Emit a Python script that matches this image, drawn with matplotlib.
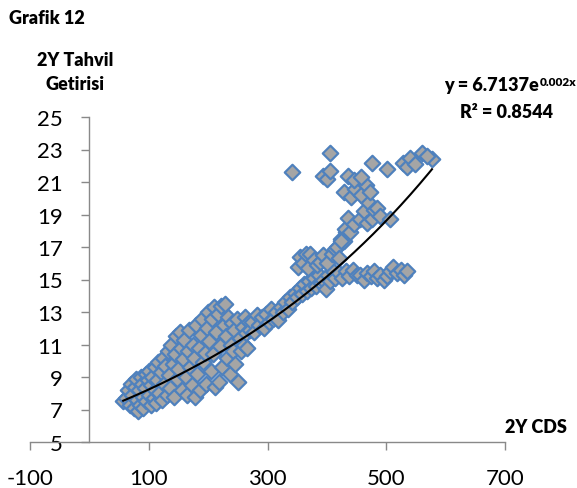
import numpy as np
import matplotlib.pyplot as plt

# data (2Y CDS, 2Y bond yield)
cds_low = [57, 62, 65, 68, 70, 72, 75, 76, 78, 80, 82, 84, 85, 87, 88, 90, 91, 93, 95, 96,
           98, 100, 101, 103, 104, 106, 108, 110, 110]
yld_low = [7.5, 7.7, 8.2, 7.3, 8.6, 7.9, 7.1, 8.4, 8.9, 7.6, 6.9, 8.2, 7.3, 9.0, 8.6, 7.8, 7.1, 8.3, 9.2, 7.5,
           8.8, 7.9, 9.4, 7.3, 8.5, 9.0, 7.7, 9.6, 8.2]

cds_b = [112, 114, 116, 118, 120, 122, 124, 126, 128, 130, 132, 134, 136, 138, 140, 142, 144, 146,
         148, 150, 152, 154, 156, 158, 160, 162, 164, 166, 168, 170, 172, 174, 176, 178, 180]
yld_b = [7.4, 8.8, 9.9, 8.0, 9.3, 7.6, 10.2, 8.6, 9.7, 7.9, 10.6, 9.1, 8.3, 11.0, 9.8, 7.8, 10.4, 11.5,
         8.9, 9.5, 11.8, 10.8, 8.2, 10.1, 11.3, 9.0, 7.9, 10.6, 11.9, 9.6, 8.5, 11.0, 10.2, 7.8, 12.2]

cds_c = [182, 184, 186, 188, 190, 192, 194, 196, 198, 200, 202, 204, 206, 208, 210, 212, 214, 216,
         218, 220, 222, 224, 226, 228, 230, 232, 234, 236, 238, 240, 242, 244, 246, 248, 251, 254,
         256, 258, 260, 262, 264, 266, 268, 270]
yld_c = [9.2, 10.8, 8.2, 11.6, 12.6, 9.9, 10.5, 8.6, 12.0, 13.0, 11.2, 9.4, 12.6, 10.4, 13.3, 8.4, 11.8, 12.9,
         8.7, 10.9, 13.4, 9.6, 12.2, 13.5, 11.5, 10.2, 12.7, 9.2, 11.0, 12.3, 10.6, 11.9, 9.8, 12.6, 8.7, 11.4,
         10.6, 12.1, 11.0, 12.7, 11.7, 10.8, 12.4, 11.9]

cds_d = [274, 278, 282, 286, 290, 294, 298, 302, 306, 310, 314, 318, 322, 326, 330, 334, 338,
         342, 346, 350, 354, 358, 362, 366, 370, 374, 378, 382, 386, 390, 394, 398, 402, 406, 410, 414]
yld_d = [12.4, 11.8, 12.8, 12.2, 12.7, 12.0, 12.9, 12.4, 13.2, 12.6, 13.0, 12.5, 13.3, 13.0, 13.6, 13.2, 13.9,
         13.6, 14.2, 13.9, 14.5, 14.1, 14.7, 14.3, 14.9, 14.5, 15.1, 14.6, 15.3, 14.8, 15.0, 14.4, 15.3, 14.9,
         15.5, 15.1]

cds_e = [352, 355, 360, 364, 368, 372, 378, 384, 389, 394, 400, 408, 414, 417, 421, 424, 428, 432]
yld_e = [15.8, 16.4, 16.0, 16.6, 15.7, 16.6, 16.2, 15.9, 16.1, 16.5, 16.0, 16.6, 16.9, 17.0, 16.3, 17.5,
         17.4, 17.9]

cds_f = [420, 426, 432, 438, 444, 450, 456, 462, 468, 474, 480, 485, 490, 496, 502, 507, 512, 518,
         524, 530, 535]
yld_f = [15.4, 15.1, 15.5, 15.2, 15.6, 15.3, 15.3, 15.0, 15.4, 15.2, 15.5, 15.1, 15.3, 15.0, 15.2, 15.5,
         15.8, 15.4, 15.6, 15.3, 15.5]

cds_g = [423, 430, 436, 439, 446, 456, 462, 468, 470, 476, 480, 485, 490, 507, 428, 440, 448, 458,
         466, 473]
yld_g = [17.4, 18.1, 18.8, 17.9, 18.4, 18.7, 19.2, 18.5, 19.8, 18.7, 19.3, 19.4, 18.9, 18.7, 20.4, 20.1,
         20.6, 20.2, 20.8, 20.4]

cds_h = [342, 394, 400, 406, 406, 436, 446, 457, 476, 502, 529, 535, 540, 548, 561, 577, 568]
yld_h = [21.6, 21.4, 21.2, 21.7, 22.8, 21.4, 21.1, 21.3, 22.2, 21.8, 22.2, 21.9, 22.5, 22.1, 22.8, 22.4,
         22.6]

cds = cds_low + cds_b + cds_c + cds_d + cds_e + cds_f + cds_g + cds_h
yld = yld_low + yld_b + yld_c + yld_d + yld_e + yld_f + yld_g + yld_h

# trendline coefficients (exponential)
a_fit = 6.7137
b_fit = 0.00204

x_ticks = [-100, 100, 300, 500, 700]
y_ticks = [5, 7, 9, 11, 13, 15, 17, 19, 21, 23, 25]

plt.rcParams['font.family'] = ['Lato', 'DejaVu Sans']
plt.rcParams['axes.unicode_minus'] = False

fig = plt.figure(figsize=(5.77, 4.89), dpi=100)
ax = fig.add_axes([30/577, 1-443/489, 475/577, 325/489])

ax.scatter(cds, yld, marker='D', s=62, facecolor='#a5a5a5', edgecolor='#4f81bd',
           linewidths=1.6, zorder=2)

xx = np.linspace(min(cds), max(cds), 200)
ax.plot(xx, a_fit*np.exp(b_fit*xx), color='black', lw=1.5, zorder=3)

ax.set_xlim(-100, 700)
ax.set_ylim(5, 25)
ax.set_xticks(x_ticks)
ax.set_yticks(y_ticks)
for s in ['top', 'right']:
    ax.spines[s].set_visible(False)
ax.spines['left'].set_position(('data', 0))
for s in ['left', 'bottom']:
    ax.spines[s].set_color('#898989')
    ax.spines[s].set_linewidth(1.0)
ax.tick_params(axis='both', colors='#898989', labelcolor='black', labelsize=16,
               length=6, width=1.0, pad=13)
ax.patch.set_alpha(0)

fs = 13
fig.text(9/577, 1-18/489, 'Grafik 12', fontsize=fs, fontweight='heavy', ha='left', va='center')
fig.text(75/577, 1-60/489, '2Y Tahvil', fontsize=fs, fontweight='heavy', ha='center', va='center')
fig.text(75/577, 1-85/489, 'Getirisi', fontsize=fs, fontweight='heavy', ha='center', va='center')
fig.text(539/577, 1-86/489, 'y = 6.7137e', fontsize=fs, fontweight='heavy', ha='right', va='center')
fig.text(540/577, 1-82/489, '0.002x', fontsize=8.5, fontweight='heavy', ha='left', va='center')
fig.text(506/577, 1-112/489, 'R² = 0.8544', fontsize=fs, fontweight='heavy', ha='center', va='center')
fig.text(567/577, 1-428/489, '2Y CDS', fontsize=fs, fontweight='heavy', ha='right', va='center')

fig.savefig('out.png', dpi=100)
